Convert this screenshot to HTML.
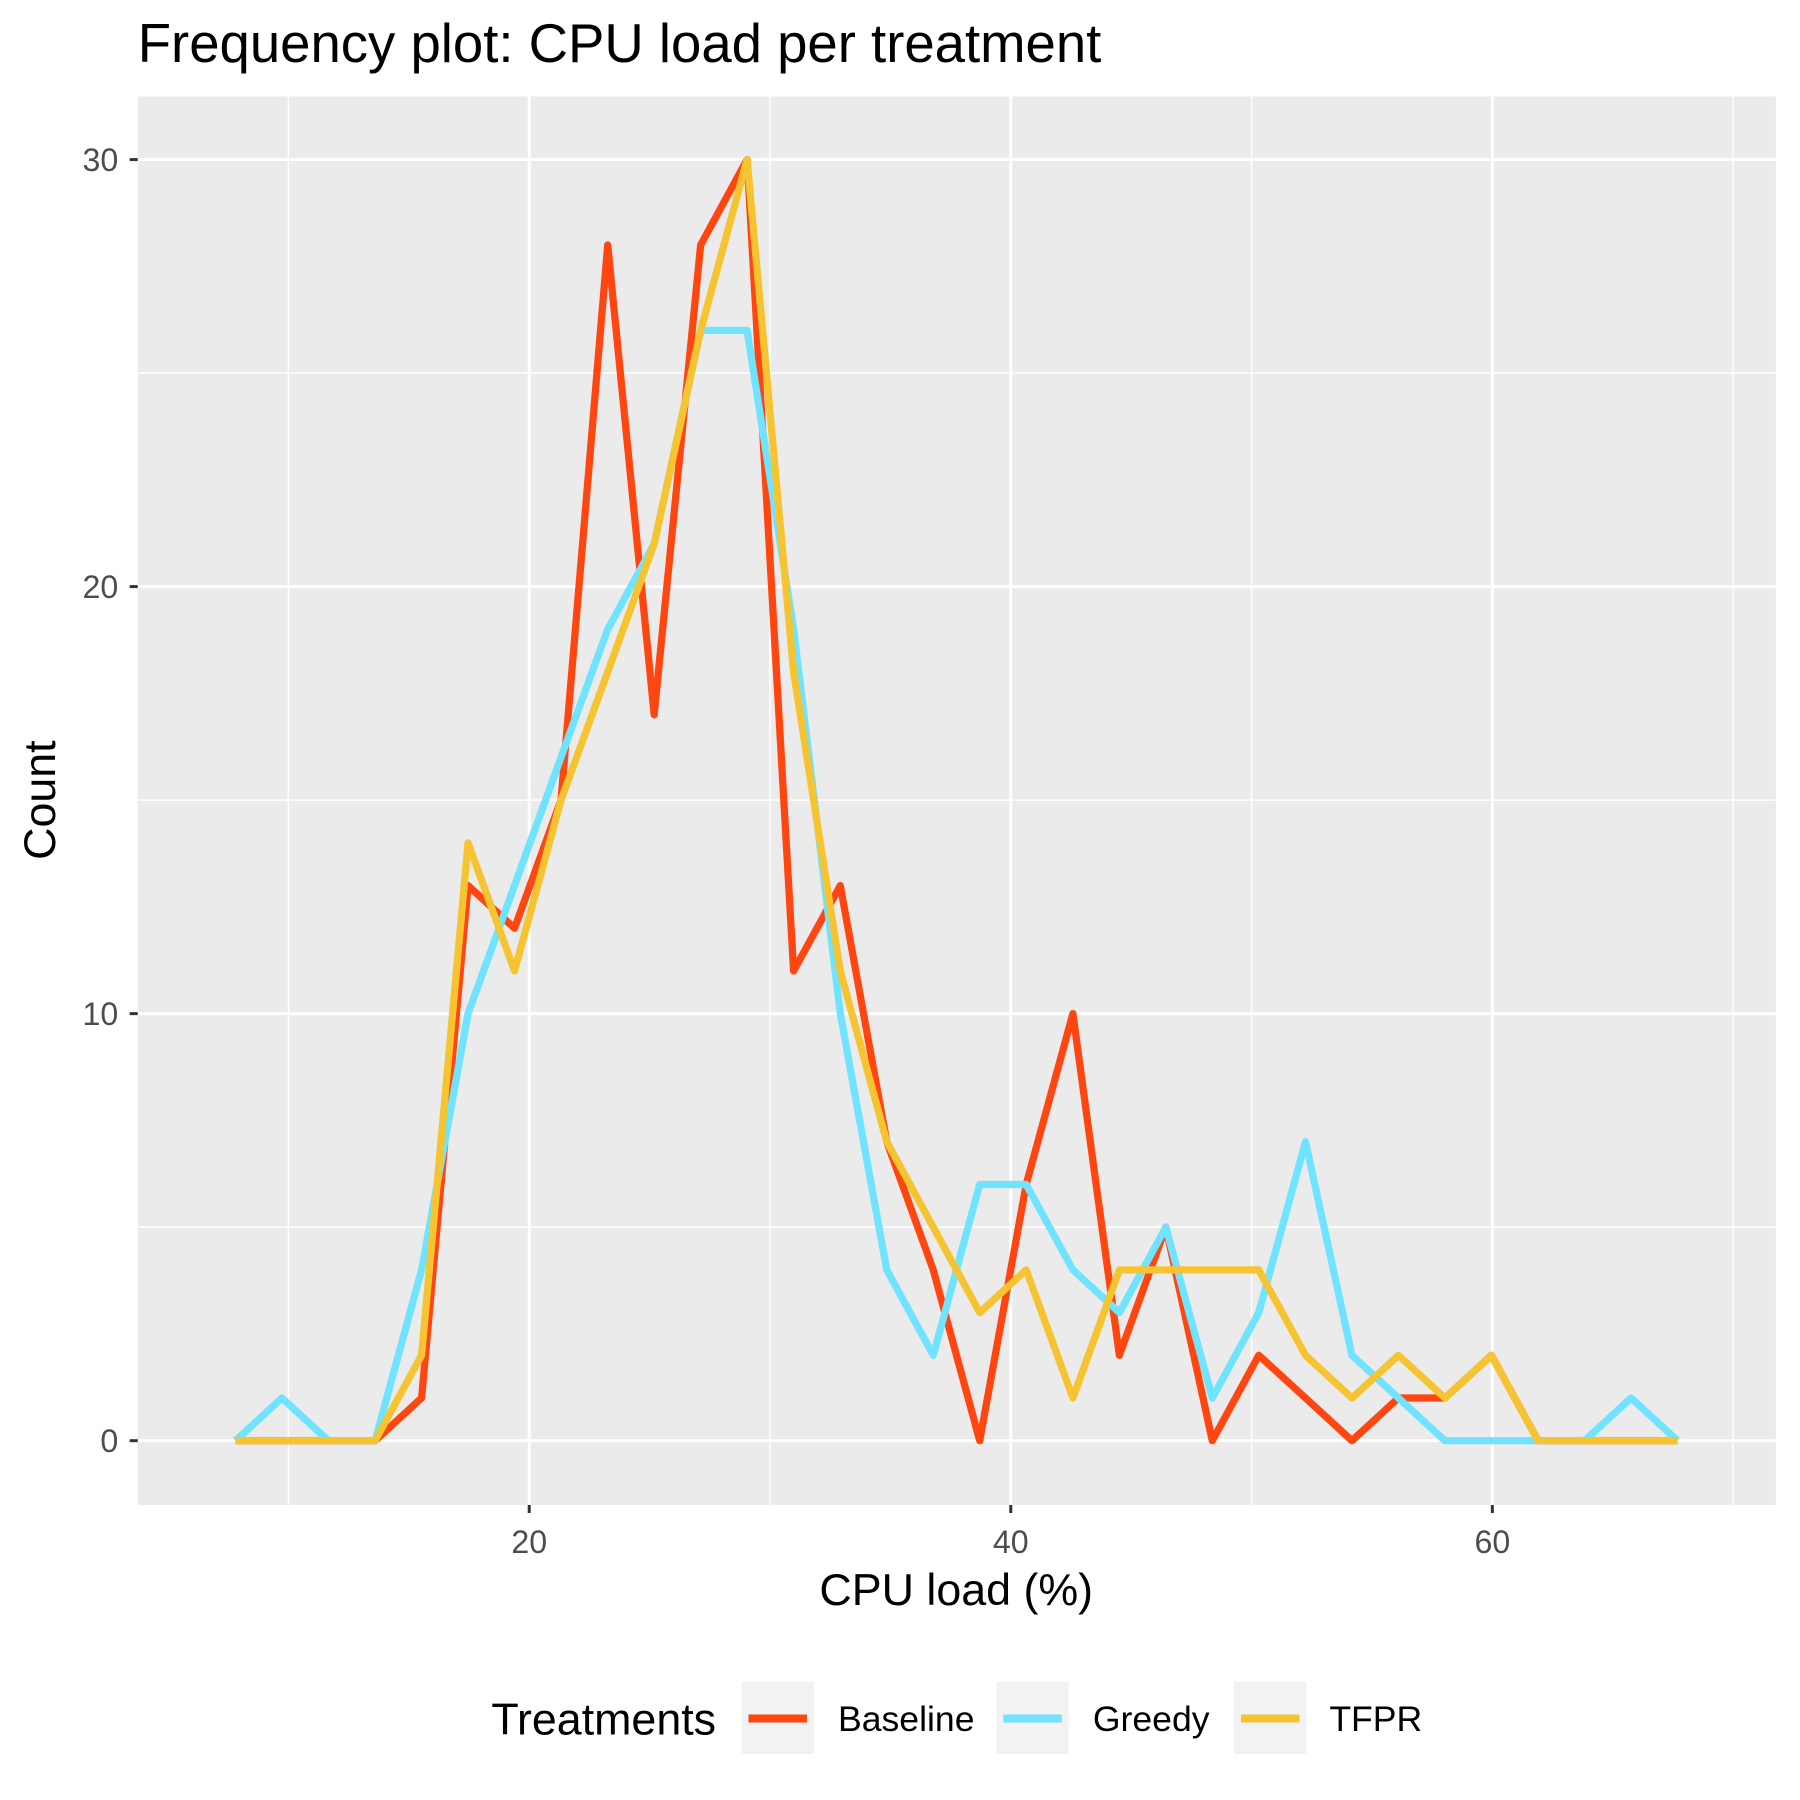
<!DOCTYPE html>
<html><head><meta charset="utf-8"><style>html,body{margin:0;padding:0;background:#fff}svg{display:block}</style></head>
<body>
<svg id="chart" width="1800" height="1800" viewBox="0 0 1568 1568" xmlns="http://www.w3.org/2000/svg" font-family="Liberation Sans, Arial, sans-serif">
<text x="120" y="54" font-size="47.5" fill="#000">Frequency plot: CPU load per treatment</text>
<rect x="120" y="84" width="1427" height="1227" fill="#ebebeb"/>
<g id="grid"></g>
<g id="series"></g>
<g id="axes"></g>
<text x="833" y="1398" font-size="39" text-anchor="middle" fill="#000">CPU load (%)</text>
<text transform="translate(48,697) rotate(-90)" font-size="39" text-anchor="middle" fill="#000">Count</text>
<g>
<text x="428" y="1511" font-size="39" fill="#000">Treatments</text>
<g><rect x="646" y="1465" width="63" height="63" fill="#f2f2f2"/><line x1="652" y1="1497" x2="703" y2="1497" stroke="#FF4510" stroke-width="7"/><text x="730" y="1508" font-size="31">Baseline</text></g>
<g><rect x="868" y="1465" width="63" height="63" fill="#f2f2f2"/><line x1="874" y1="1497" x2="925" y2="1497" stroke="#6FE3FF" stroke-width="7"/><text x="952" y="1508" font-size="31">Greedy</text></g>
<g><rect x="1075" y="1465" width="63" height="63" fill="#f2f2f2"/><line x1="1081" y1="1497" x2="1132" y2="1497" stroke="#F7C431" stroke-width="7"/><text x="1158" y="1508" font-size="31">TFPR</text></g>
</g>
</svg>
<script>
const bins = [7.8,9.73,11.66,13.6,15.53,17.46,19.39,21.32,23.26,25.19,27.12,29.05,30.98,32.92,34.85,36.78,38.71,40.64,42.58,44.51,46.44,48.37,50.3,52.24,54.17,56.1,58.03,59.96,61.9,63.83,65.76,67.69];
const baseline = [0,0,0,0,1,13,12,15,28,17,28,30,11,13,7,4,0,6,10,2,5,0,2,1,0,1,1,2,0,0,0,0];
const greedy = [0,1,0,0,4,10,13,16,19,21,26,26,19,10,4,2,6,6,4,3,5,1,3,7,2,1,0,0,0,0,1,0];
const tfpr = [0,0,0,0,2,14,11,15,18,21,26,30,18,11,7,5,3,4,1,4,4,4,4,2,1,2,1,2,0,0,0,0];
const xMajor = [20,40,60];
const xMinor = [10,30,50,70];
const yMajor = [0,10,20,30];
const yMinor = [5,15,25];
const NS='http://www.w3.org/2000/svg';
const X = v => 461 + (v-20)*20.975;
const Y = v => 1255 - v*37.2;
function mk(tag, attrs, parent){const e=document.createElementNS(NS,tag);for(const k in attrs)e.setAttribute(k,attrs[k]);parent.appendChild(e);return e;}
const grid=document.getElementById('grid'), axes=document.getElementById('axes'), series=document.getElementById('series');
xMinor.forEach(v=>{const l=mk('line',{x1:X(v),x2:X(v),y1:84,y2:1311,stroke:'#fff','stroke-width':1.3},grid);

});
yMinor.forEach(v=>{const l=mk('line',{x1:120,x2:1547,y1:Y(v),y2:Y(v),stroke:'#fff','stroke-width':1.3},grid);

});
xMajor.forEach(v=>{const l=mk('line',{x1:X(v),x2:X(v),y1:84,y2:1311,stroke:'#fff','stroke-width':2.6},grid);


const t=mk('line',{x1:X(v),x2:X(v),y1:1311,y2:1318,stroke:'#333','stroke-width':2.6},axes);


const tx=mk('text',{x:X(v),y:1353,'font-size':28,'text-anchor':'middle',fill:'#4d4d4d'},axes);tx.textContent=v;

});
yMajor.forEach(v=>{const l=mk('line',{x1:120,x2:1547,y1:Y(v),y2:Y(v),stroke:'#fff','stroke-width':2.6},grid);


const t=mk('line',{x1:113,x2:120,y1:Y(v),y2:Y(v),stroke:'#333','stroke-width':2.6},axes);


const tx=mk('text',{x:103,y:Y(v)+10,'font-size':28,'text-anchor':'end',fill:'#4d4d4d'},axes);tx.textContent=v;

});
[[baseline,'#FF4510','baseline-line'],[greedy,'#6FE3FF','greedy-line'],[tfpr,'#F7C431','tfpr-line']].forEach(([d,c,n])=>{
const p=mk('polyline',{points:d.map((v,i)=>X(bins[i])+','+Y(v)).join(' '),fill:'none',stroke:c,'stroke-width':6.3,'stroke-linejoin':'round'},series);

});
</script>
</body></html>
